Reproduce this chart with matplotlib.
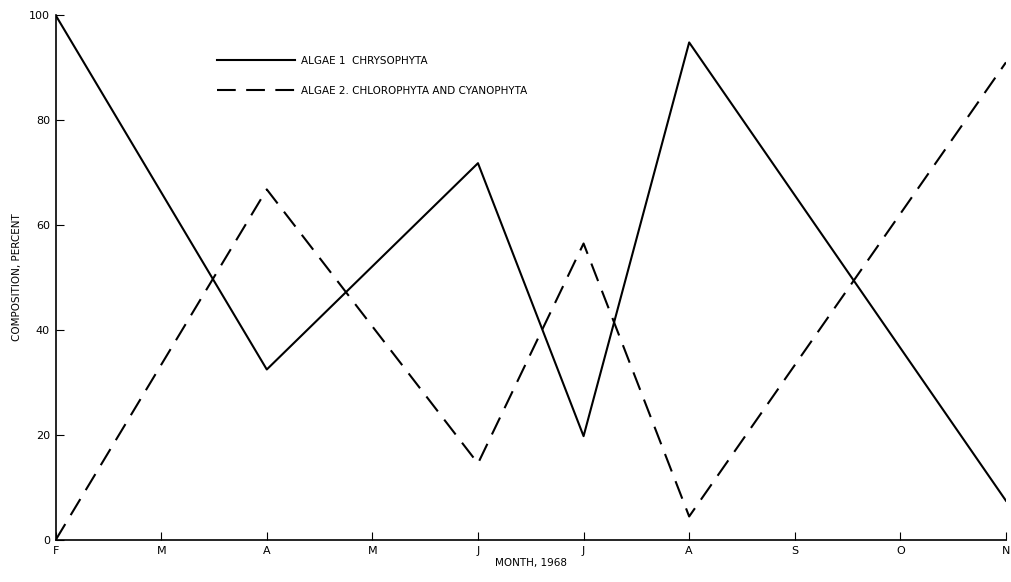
import matplotlib.pyplot as plt

months = ['F', 'M', 'A', 'M', 'J', 'J', 'A', 'S', 'O', 'N']
sample_idx = [0, 2, 4, 5, 6, 9]
algae1 = [100, 32.5, 71.8, 19.8, 94.8, 7.5]
algae2 = [0, 66.8, 14.6, 56.5, 4.5, 91.0]

fig = plt.figure(figsize=(10.11, 5.82), dpi=100)
ax = fig.add_axes([0.055, 0.072, 0.94, 0.902])

ax.plot(sample_idx, algae1, color='black', lw=1.5, label='ALGAE 1  CHRYSOPHYTA')
ax.plot(sample_idx, algae2, color='black', lw=1.5, dashes=(9, 5),
        label='ALGAE 2. CHLOROPHYTA AND CYANOPHYTA')

ax.set_xlim(0, len(months) - 1)
ax.set_ylim(0, 100)
ax.set_xticks(range(len(months)))
ax.set_xticklabels(months)
ax.set_yticks([0, 20, 40, 60, 80, 100])
ax.tick_params(axis='both', direction='in', length=6, width=0.8, labelsize=8, pad=4)
ax.spines['top'].set_visible(False)
ax.spines['right'].set_visible(False)
ax.spines['left'].set_linewidth(1.2)
ax.spines['bottom'].set_linewidth(1.2)

ax.set_xlabel('MONTH, 1968', fontsize=7.5, labelpad=2)
ax.set_ylabel('COMPOSITION, PERCENT', fontsize=7.5, labelpad=5)

leg = ax.legend(loc='upper left', bbox_to_anchor=(0.16, 0.94), frameon=False,
                fontsize=7.5, handlelength=7.5, handletextpad=0.6,
                labelspacing=1.9)

fig.savefig('out.png', dpi=100)
